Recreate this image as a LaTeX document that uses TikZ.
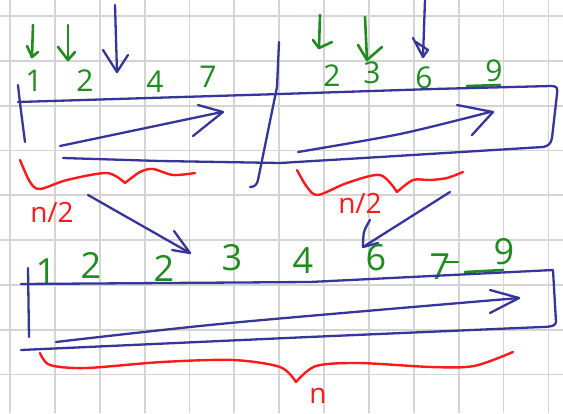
\documentclass[tikz,border=0pt]{standalone}
\usepackage{fontspec}
\setmainfont{Open Sans}
\definecolor{pen}{HTML}{35359A}
\definecolor{grn}{HTML}{1E8C1E}
\definecolor{rd}{HTML}{FF1A1A}
\definecolor{gridc}{HTML}{D4D4D4}
\begin{document}
\begin{tikzpicture}[x=1pt,y=-1pt,
  gridline/.style={draw=gridc,line width=1.8pt},
  bluepen/.style={draw=pen,line width=2.3pt,line cap=round,line join=round},
  greenpen/.style={draw=grn,line width=2.6pt,line cap=round,line join=round},
  redpen/.style={draw=rd,line width=2.4pt,line cap=round,line join=round},
  digtop/.style={text=grn,inner sep=0pt,font=\fontsize{30}{30}\selectfont},
  digbot/.style={text=grn,inner sep=0pt,font=\fontsize{36}{36}\selectfont},
  redlabel/.style={text=rd,inner sep=0pt,font=\fontsize{28}{28}\selectfont}]
\useasboundingbox[fill=white] (0,0) rectangle (563,413);
% grid
\foreach \i in {0,...,12} \draw[gridline] ({10+44.87*\i},0) -- ({10+44.87*\i},413);
\foreach \j in {0,...,8} \draw[gridline] (0,{16+44.8*\j}) -- (563,{16+44.8*\j});

% ---------- top half ----------
% top digits
\node[digtop] (a1) at (34,81) {1};
\node[digtop] (a2) at (85,81) {2};
\node[digtop] (a4) at (155,82) {4};
\node[digtop] (a7) at (208,77) {7};
\node[digtop] (b2) at (332,76) {2};
\node[digtop] (b3) at (372,73) {3};
\node[digtop] (b6) at (424,78) {6};
\node[digtop] (b9) at (494,71) {9};
\draw[greenpen] (467,86) -- (500,85);

% green pointer arrows
\draw[greenpen] (33,25) -- (32,57);
\draw[greenpen] (27,46) -- (32,57) -- (38,52);
\draw[greenpen] (68,25) -- (68,60);
\draw[greenpen] (58,47) -- (68,60) -- (75,52);
\draw[greenpen] (320,15) -- (319,48);
\draw[greenpen] (313,40) -- (319,48) -- (332,42);
\draw[greenpen] (365,17) -- (367,60);
\draw[greenpen] (358,45) -- (367,60) -- (382,47);
% blue pointer arrows
\draw[bluepen] (115,5) -- (117,72);
\draw[bluepen] (103,50) -- (117,72) -- (128,55);
\draw[bluepen] (425,0) -- (423,57);
\draw[bluepen] (413,38) -- (423,57) -- (428,50) -- (416,42);

% top box
\draw[bluepen] plot[smooth] coordinates {(18,85) (20,103) (25,142)};
\draw[bluepen] (18,102) -- (280,94) -- (433,89) -- (551,86)
  .. controls (557,86) and (558,88) .. (557,94)
  -- (552,138) .. controls (551,144) and (548,146) .. (543,147)
  -- (380,157) -- (280,163) -- (160,161) -- (63,158);
% divider
\draw[bluepen] (279,42) -- (277,87) -- (258,180) .. controls (257,185) and (254,187) .. (250,187);
% inner arrows
\draw[bluepen] (60,146) -- (222,112);
\draw[bluepen] (198,105) -- (223,112) -- (193,136);
\draw[bluepen] plot[smooth] coordinates {(298,152) (400,134) (490,112)};
\draw[bluepen] (457,105) -- (493,112) -- (472,135);

% red braces
\draw[redpen] plot[smooth] coordinates {(20,160) (30,182) (40,189) (67,180) (107,173) (125,183)};
\draw[redpen] plot[smooth] coordinates {(125,183) (140,172) (153,169) (173,175) (195,173)};
\draw[redpen] plot[smooth] coordinates {(297,170) (307,187) (318,195) (347,183) (380,175) (397,192)};
\draw[redpen] plot[smooth] coordinates {(397,192) (413,180) (430,180) (447,178) (463,172)};
\node[redlabel] (h1) at (52,212) {n/2};
\node[redlabel] (h2) at (360,203) {n/2};

% merge arrows
\draw[bluepen] (88,195) -- (190,253);
\draw[bluepen] (174,231) -- (190,253) -- (172,250);
\draw[bluepen] (450,192) -- (363,247);
\draw[bluepen] plot[smooth] coordinates {(370,220) (364,232) (363,247)};
\draw[bluepen] (363,247) -- (378,243);

% ---------- bottom ----------
\node[digbot] (c1) at (46,272) {1};
\node[digbot] (c2) at (91,265) {2};
\node[digbot] (c22) at (164,268) {2};
\node[digbot] (c3) at (232,258) {3};
\node[digbot] (c4) at (303,261) {4};
\node[digbot] (c6) at (376,258) {6};
\node[digbot] (c7) at (440,267) {7};
\draw[greenpen] (445,262) -- (458,262);
\node[digbot] (c9) at (504,252) {9};
\draw[greenpen] (465,272) -- (503,270);

% bottom box
\draw[bluepen] (28,268) -- (29,337);
\draw[bluepen] (21,284) -- (310,282) -- (553,270)
  -- (556,322) .. controls (556,326) and (550,327) .. (542,327)
  -- (309,337) -- (21,350);
\draw[bluepen] plot[smooth] coordinates {(56,342) (230,323) (519,298)};
\draw[bluepen] (490,290) -- (519,298) -- (490,313);

% big brace
\draw[redpen] plot[smooth] coordinates {(40,353) (50,365) (86,368) (162,362) (233,360) (280,367) (296,382)};
\draw[redpen] plot[smooth] coordinates {(296,382) (316,366) (359,363) (431,367) (474,366) (513,352)};
\node[redlabel] (nn) at (318,396) {n};
\end{tikzpicture}
\end{document}
